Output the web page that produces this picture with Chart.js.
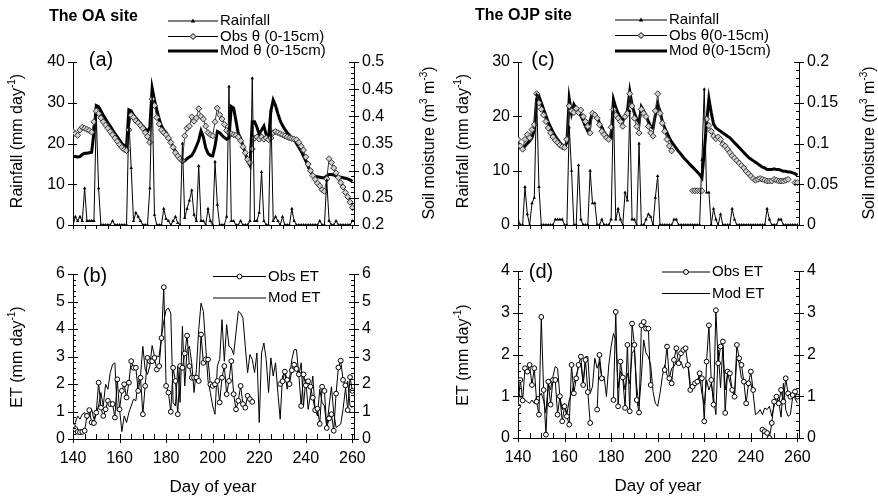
<!DOCTYPE html>
<html>
<head>
<meta charset="utf-8">
<title>OA and OJP sites: rainfall, soil moisture and ET</title>
<script src="https://cdn.jsdelivr.net/npm/chart.js@4.4.1/dist/chart.umd.min.js"></script>
<style>
  body { margin: 0; background: #fff; }
  #wrap { position: relative; width: 878px; height: 498px; overflow: hidden; }
  #wrap canvas { position: absolute; left: 0; top: 0; }
</style>
</head>
<body>
<div id="wrap">
  <canvas id="chartA" width="878" height="498"></canvas>
  <canvas id="chartB" width="878" height="498"></canvas>
  <canvas id="chartC" width="878" height="498"></canvas>
  <canvas id="chartD" width="878" height="498"></canvas>
</div>
<script>
// day of year, one entry per day
const days = [
  140, 141, 142, 143, 144, 145, 146, 147, 148, 149,
  150, 151, 152, 153, 154, 155, 156, 157, 158, 159,
  160, 161, 162, 163, 164, 165, 166, 167, 168, 169,
  170, 171, 172, 173, 174, 175, 176, 177, 178, 179,
  180, 181, 182, 183, 184, 185, 186, 187, 188, 189,
  190, 191, 192, 193, 194, 195, 196, 197, 198, 199,
  200, 201, 202, 203, 204, 205, 206, 207, 208, 209,
  210, 211, 212, 213, 214, 215, 216, 217, 218, 219,
  220, 221, 222, 223, 224, 225, 226, 227, 228, 229,
  230, 231, 232, 233, 234, 235, 236, 237, 238, 239,
  240, 241, 242, 243, 244, 245, 246, 247, 248, 249,
  250, 251, 252, 253, 254, 255, 256, 257, 258, 259,
  260
];

// tick labels
const dayTicks = [140, 160, 180, 200, 220, 240, 260];
const rainTicksOA = [0, 10, 20, 30, 40];
const thetaTicksOA = [0.2, 0.25, 0.3, 0.35, 0.4, 0.45, 0.5];
const rainTicksOJP = [0, 10, 20, 30];
const thetaTicksOJP = [0, 0.05, 0.1, 0.15, 0.2];
const etTicksOA = [0, 1, 2, 3, 4, 5, 6];
const etTicksOJP = [0, 1, 2, 3, 4];

// (a) OA site, rainfall (mm/day)
const rainOA = [
  0, 2, 1, 2, 1, 9, 1, 1, 1, 1,
  27, 9, 0, 0, 0, 0, 0, 1, 0, 0,
  0, 0, 0, 0, 26, 14, 1, 3, 2, 1,
  0, 0, 0, 9, 33, 2.5, 0, 0, 0, 4,
  1.5, 1, 0, 1, 2, 0.5, 0, 20, 1.7, 4,
  6, 8.5, 2.5, 1, 14.5, 1, 1, 0, 4, 1,
  0, 15.5, 5, 0, 0, 0, 2, 34, 1, 1,
  0, 0, 1, 0, 0, 0, 1, 36, 1, 1,
  3, 13, 1, 0, 0, 28, 1, 2, 1, 0,
  2, 0, 0, 0, 4, 1, 0, 0, 0, 0,
  0, 0, 0, 0, 0, 0, 1, 0, 0, 11,
  1, 0, 0, 1, 0, 0, 0, 0, 0, 0,
  1
];
// (a) observed soil moisture 0-15 cm (m3/m3)
const obsThetaOA = [
  0.372, 0.368, 0.365, 0.375, 0.38, 0.378, 0.376, 0.374, 0.371, 0.39,
  0.41, 0.405, 0.397, 0.39, 0.384, 0.378, 0.372, 0.366, 0.36, 0.354,
  0.348, 0.343, 0.339, 0.337, 0.375, 0.402, 0.398, 0.392, 0.388, 0.383,
  0.378, 0.37, 0.363, 0.352, 0.432, 0.42, 0.398, 0.386, 0.375, 0.37,
  0.366, 0.36, 0.352, 0.343, 0.333, 0.327, 0.322, 0.318, 0.364, 0.378,
  0.382, 0.399, 0.391, 0.397, 0.414, 0.4, 0.395, 0.382, 0.37, 0.366,
  0.364, 0.39, 0.415, 0.403, 0.395, 0.385, 0.374, 0.37, 0.368, 0.366,
  0.365, 0.362, 0.355, 0.344, 0.333, 0.321, 0.315, 0.34, 0.36, 0.362,
  0.358, 0.362, 0.358, 0.36, 0.357, 0.36, 0.37, 0.372, 0.37, 0.368,
  0.366, 0.364, 0.362, 0.36, 0.359, 0.358, 0.357, 0.352, 0.345, 0.338,
  0.325, 0.312, 0.3, 0.291, 0.284, 0.277, 0.272, 0.265, 0.262, 0.285,
  0.322, 0.315, 0.305, 0.296, 0.287, 0.278, 0.27, 0.26, 0.252, 0.242,
  0.232
];
// (a) modelled soil moisture 0-15 cm
const modThetaOA = [
  0.326, 0.326, 0.325, 0.326, 0.33, 0.332, 0.332, 0.333, 0.334, 0.37,
  0.42, 0.418, 0.41, 0.402, 0.395, 0.388, 0.382, 0.375, 0.368, 0.362,
  0.356, 0.35, 0.346, 0.344, 0.412, 0.41, 0.402, 0.397, 0.392, 0.387,
  0.382, 0.377, 0.372, 0.38, 0.452, 0.43, 0.412, 0.395, 0.382, 0.375,
  0.37, 0.362, 0.353, 0.344, 0.335, 0.326, 0.32, 0.316, 0.318, 0.322,
  0.325, 0.328, 0.335, 0.345, 0.356, 0.373, 0.362, 0.342, 0.332, 0.328,
  0.327, 0.345, 0.372, 0.37, 0.365, 0.361, 0.358, 0.36, 0.418, 0.415,
  0.392, 0.368, 0.36, 0.345, 0.333, 0.318, 0.31, 0.39, 0.39, 0.38,
  0.367, 0.375, 0.382, 0.366, 0.36, 0.41, 0.43, 0.42, 0.405, 0.392,
  0.383, 0.376, 0.37, 0.365, 0.36, 0.357, 0.35, 0.343, 0.336, 0.327,
  0.318, 0.308, 0.298, 0.292, 0.29, 0.289, 0.288, 0.287, 0.287, 0.29,
  0.293, 0.293, 0.292, 0.29, 0.289, 0.288, 0.287, 0.286, 0.285, 0.283,
  0.28
];

// (b) OA site ET (mm/day)
const obsEtOA = [
  0.47, 0.36, 0.26, 0.25, 0.26, 0.3, 0.84, 1.05, 0.6, 0.58,
  0.96, 2.05, 1.14, 0.84, 1.08, 1.39, 1.27, 1.27, 0.78, 2.17,
  1.08, 1.75, 1.99, 1.51, 2.05, 2.83, 2.59, 2.59, 1.75, 2.23,
  0.9, 1.93, 2.95, 2.83, 2.83, 2.95, 2.53, 2.65, 3.67, 5.52,
  1.93, 1.69, 0.99, 2.59, 2.11, 0.9, 2.65, 2.59, 3.11, 3.76,
  2.65, 2.23, 2.23, 2.23, 2.11, 3.8, 2.77, 2.89, 2.89, 1.99,
  1.93, 1.99, 2.11, 1.33, 2.23, 2.65, 1.63, 2.11, 2.83, 1.63,
  1.08, 1.39, 1.93, 1.27, 1.14, 1.57, 1.45, 1.35, null, null,
  null, null, null, null, null, null, null, null, null, 2.0,
  2.1, 2.45, 2.15, 2.0, 2.5, 2.7, 2.55, 2.35, 1.2, 2.35,
  1.95, 2.1, 1.9, 1.5, 1.05, 1.1, 0.55, 1.9, 1.75, 0.4,
  0.75, 0.9, 0.3, 1.65, 2.6, 2.85, 2.15, 1.95, 1.05, 2.25,
  1.75
];
const modEtOA = [
  0.42, 0.6, 0.84, 0.72, 0.9, 0.96, 0.72, 0.84, 1.08, 0.72,
  0.96, 1.2, 1.69, 1.2, 1.99, 1.81, 2.41, 2.71, 2.77, 1.02,
  1.08, 0.27, 0.84, 0.6, 0.96, 1.2, 1.45, 1.39, 2.05, 2.29,
  3.37, 2.53, 2.35, 2.65, 3.4, 3.01, 3.01, 3.0, 3.73, 4.28,
  4.7, 4.76, 4.58, 1.33, 1.2, 2.65, 1.33, 4.1, 1.93, 3.25,
  3.37, 2.77, 1.69, 2.53, 3.98, 4.94, 4.64, 3.37, 2.11, 1.69,
  1.2, 0.9, 2.65, 2.89, 4.34, 2.83, 4.16, 3.37, 3.31, 3.07,
  3.86, 4.64, 4.58, 4.4, 3.37, 2.41, 3.07, 2.89, 2.41, 3.13,
  0.6, 3.13, 3.49, 2.89, 1.69, 2.95, 2.29, 2.77, 1.69, 0.72,
  2.29, 2.41, 1.81, 2.2, 2.89, 3.25, 3.25, 2.29, 2.77, 1.2,
  2.17, 1.08, 1.6, 2.29, 1.08, 0.84, 1.81, 1.33, 1.2, 0.42,
  1.2, 1.9, 0.96, 0.42, 0.48, 0.54, 1.08, 1.81, 2.11, 1.2,
  1.14
];

// (c) OJP site rainfall (mm/day)
const rainOJP = [
  1, 0, 0, 7, 2, 0, 4, 5, 24, 7,
  0, 0, 0, 0, 0, 0, 1, 1, 1, 1,
  0, 0, 18, 10, 0, 0, 11, 1, 0, 0,
  0, 10, 4, 4, 0, 0, 1, 0, 0, 0,
  1, 22, 1, 3, 1, 0, 6, 4.5, 21, 1,
  1, 0, 15, 0, 0, 1, 2, 1.5, 0, 5,
  9, 0, 0, 0, 0, 0, 0, 1, 1, 0,
  0, 0, 0, 0, 0, 0, 0, 0, 0, 12,
  25, 6, 6, 0, 3, 1, 0, 2, 0, 0,
  0, 0, 3, 1, 0, 0, 0, 0, 0, 0,
  0, 0, 0, 0, 0, 0, 0, 3, 1, 0,
  0, 0, 1, 1, 0, 0, 0, 0, 0, 0,
  0
];
const obsThetaOJP = [
  0.105, 0.097, 0.093, 0.105, 0.111, 0.107, 0.117, 0.123, 0.161, 0.15,
  0.142, 0.135, 0.127, 0.119, 0.113, 0.108, 0.104, 0.101, 0.098, 0.096,
  0.095, 0.105, 0.146, 0.14, 0.138, 0.143, 0.138, 0.141, 0.133, 0.127,
  0.121, 0.113, 0.137, 0.135, 0.131, 0.123, 0.115, 0.111, 0.107, 0.105,
  0.12, 0.142, 0.135, 0.131, 0.127, 0.121, 0.133, 0.137, 0.161, 0.146,
  0.131, 0.121, 0.113, 0.142, 0.137, 0.133, 0.121, 0.113, 0.109, 0.14,
  0.161, 0.137, 0.125, 0.115, 0.105, 0.097, 0.091, null, null, null,
  null, null, null, null, null, 0.042, 0.042, 0.042, 0.042, 0.042,
  null, 0.13, 0.122, 0.115, 0.109, 0.106, 0.108, 0.105, 0.099, 0.097,
  0.093, 0.089, 0.085, 0.082, 0.079, 0.076, 0.073, 0.07, 0.066, 0.063,
  0.06, 0.057, 0.055, 0.056, 0.057, 0.056, 0.055, 0.054, 0.054, 0.054,
  0.056, 0.055, 0.054, 0.054, 0.054, 0.055, 0.056, null, null, 0.052,
  0.052
];
const modThetaOJP = [
  0.097, 0.095, 0.093, 0.097, 0.1, 0.103, 0.107, 0.117, 0.155, 0.158,
  0.15, 0.142, 0.134, 0.126, 0.12, 0.114, 0.109, 0.105, 0.101, 0.098,
  0.096, 0.101, 0.155, 0.137, 0.148, 0.143, 0.14, 0.134, 0.128, 0.121,
  0.115, 0.128, 0.137, 0.135, 0.132, 0.125, 0.12, 0.114, 0.11, 0.107,
  0.107, 0.154, 0.144, 0.137, 0.132, 0.128, 0.133, 0.14, 0.164, 0.147,
  0.137, 0.13, 0.126, 0.145, 0.14, 0.134, 0.127, 0.121, 0.119, 0.135,
  0.148, 0.14, 0.127, 0.119, 0.113, 0.107, 0.102, 0.098, 0.094, 0.09,
  0.087, 0.083, 0.08, 0.077, 0.074, 0.071, 0.068, 0.065, 0.062, 0.058,
  0.09, 0.125, 0.155, 0.138, 0.124, 0.119, 0.117, 0.115, 0.113, 0.111,
  0.109, 0.107, 0.104, 0.101, 0.098, 0.095, 0.092, 0.089, 0.086, 0.083,
  0.081, 0.079, 0.077, 0.075, 0.073, 0.071, 0.07, 0.068, 0.068, 0.068,
  0.069, 0.068, 0.068, 0.067, 0.066, 0.066, 0.065, 0.065, 0.064, 0.063,
  0.061
];

// (d) OJP site ET (mm/day)
const obsEtOJP = [
  0.76, 1.39, 0.9, 1.67, 1.59, 1.75, 1.27, 1.67, 0.87, 0.56,
  2.9, 1.15, 0.08, 1.35, 0.8, 1.39, 1.39, 0.56, 1.0, 0.4,
  0.76, 0.52, 0.32, 1.75, 1.07, 1.43, 1.75, 1.95, 1.27, 1.87,
  1.1, 0.36, null, null, 0.68, 1.99, 1.43, null, null, null,
  null, 0.91, 3.02, 0.76, 1.83, 1.45, 0.72, 2.23, 0.64, 2.74,
  2.23, 0.91, 0.61, 2.7, 2.78, 2.62, 2.62, 1.27, null, null,
  null, null, null, 1.63, 2.19, 1.43, 1.31, 1.87, 2.15, 1.79,
  2.03, 2.11, 2.15, 1.75, 1.15, 1.23, 1.31, 1.35, 1.55, 1.43,
  0.4, 1.83, 2.7, 1.39, 0.8, 3.06, 1.79, 2.19, 2.31, 0.6,
  1.59, 1.55, 1.15, 0.99, 2.23, 1.91, 1.75, 1.35, 0.83, 1.31,
  1.59, 1.15, null, null, null, 0.2, 0.16, 0.12, 0.0, 0.36,
  0.87, 0.99, 0.83, 1.15, 0.87, 1.43, 1.07, 0.99, 1.03, 1.11,
  0.99
];
const modEtOJP = [
  1.11, 0.99, 0.91, 0.91, 0.87, 0.83, 0.91, 0.83, 0.99, 0.99,
  1.07, 0.91, 0.6, 1.31, 1.15, 1.47, 1.71, 1.67, 0.99, 0.68,
  0.83, 0.56, 0.91, 1.07, 1.31, 1.47, 1.71, 1.79, 1.31, 1.95,
  1.95, 1.07, 1.23, 1.91, 1.67, 1.83, 1.43, 1.47, 0.99, 1.75,
  2.19, 2.5, 2.35, 1.2, 1.6, 1.47, 1.15, 1.55, 1.3, 2.03,
  2.11, 1.23, 0.76, 1.47, 2.35, 2.03, 1.95, 1.75, 1.11, 0.83,
  0.76, 1.07, 1.47, 1.75, 1.51, 1.43, 1.67, 1.71, 1.83, 1.75,
  1.83, 1.67, 1.71, 1.79, 1.3, 1.23, 1.35, 1.39, 1.47, 1.07,
  0.8, 1.39, 1.15, 1.31, 0.95, 0.56, 2.11, 1.2, 2.19, 1.15,
  1.55, 1.35, 1.15, 0.99, 1.95, 1.79, 1.43, 1.39, 1.31, 1.23,
  1.31, 1.07, 0.56, 0.6, 0.68, 0.56, 0.72, 0.68, 0.76, 0.52,
  0.76, 0.99, 0.87, 0.5, 1.31, 0.68, 0.52, 0.56, 0.99, 0.95,
  0.83
];

const W = 878, H = 498;
const FONT = 'Arial, "Liberation Sans", Helvetica, sans-serif';
const X_MAX = 260.7;

Chart.defaults.font.family = FONT;
Chart.defaults.color = '#000';

const pts = arr => days.map((d, i) => ({ x: d, y: arr[i] }));

function rainSet(arr) {
  return { label: 'Rainfall', data: pts(arr), yAxisID: 'y', order: 1,
    borderColor: '#000', borderWidth: 1, pointStyle: 'triangle', pointRadius: 2,
    pointBackgroundColor: '#000', pointBorderColor: '#000', pointBorderWidth: 0 };
}
function obsThetaSet(arr) {
  return { label: 'Obs θ', data: pts(arr), yAxisID: 'y2', order: 2,
    borderColor: '#333', borderWidth: 1, pointStyle: 'rectRot', pointRadius: 3,
    pointBackgroundColor: '#cfcfcf', pointBorderColor: '#333', pointBorderWidth: 1 };
}
function modThetaSet(arr) {
  return { label: 'Mod θ', data: pts(arr), yAxisID: 'y2', order: 3,
    borderColor: '#000', borderWidth: 3, pointRadius: 0 };
}
function obsEtSet(arr) {
  return { label: 'Obs ET', data: pts(arr), yAxisID: 'y', order: 1,
    borderColor: '#000', borderWidth: 1, pointStyle: 'circle', pointRadius: 2.4,
    pointBackgroundColor: '#fff', pointBorderColor: '#000', pointBorderWidth: 1 };
}
function modEtSet(arr) {
  return { label: 'Mod ET', data: pts(arr), yAxisID: 'y', order: 2,
    borderColor: '#000', borderWidth: 1, pointRadius: 0 };
}

function axisY(pos, min, max, labels, width) {
  return {
    type: 'linear', position: pos, min: min, max: max,
    afterFit: s => { s.width = width; },
    afterBuildTicks: s => { s.ticks = labels.map(v => ({ value: v })); },
    grid: { display: false, drawTicks: false },
    border: { display: true, color: '#000', width: 1 },
    ticks: { padding: 8, font: { size: 16 }, color: '#000',
      callback: v => String(Math.round(v * 100) / 100) }
  };
}

function drawTicks(ctx, scale, a, side, from, to, step, outLen, inLen) {
  const n = Math.round((to - from) / step);
  ctx.beginPath();
  for (let k = 0; k <= n; k++) {
    const p = Math.round(scale.getPixelForValue(from + k * step)) + 0.5;
    if (side === 'bottom') { ctx.moveTo(p, a.bottom - inLen); ctx.lineTo(p, a.bottom + outLen); }
    if (side === 'left') { ctx.moveTo(a.left - outLen, p); ctx.lineTo(a.left + inLen, p); }
    if (side === 'right') { ctx.moveTo(a.right - inLen, p); ctx.lineTo(a.right + outLen, p); }
  }
  ctx.stroke();
}

// text with superscripts, centred on (x, y)
function richText(ctx, parts, x, y, size, rot) {
  ctx.save();
  ctx.translate(x, y);
  ctx.rotate(rot);
  ctx.textAlign = 'left';
  ctx.textBaseline = 'middle';
  const font = p => (p[1] ? Math.round(size * 0.62) : size) + 'px ' + FONT;
  let w = 0;
  parts.forEach(p => { ctx.font = font(p); w += ctx.measureText(p[0]).width; });
  let cx = -w / 2;
  parts.forEach(p => {
    ctx.font = font(p);
    ctx.fillText(p[0], cx, p[1] ? -size * 0.38 : 0);
    cx += ctx.measureText(p[0]).width;
  });
  ctx.restore();
}

function legendRow(ctx, x1, x2, r) {
  const [y, label, marker, lw] = r;
  ctx.lineWidth = lw;
  ctx.beginPath(); ctx.moveTo(x1, y); ctx.lineTo(x2, y); ctx.stroke();
  const mx = (x1 + x2) / 2;
  ctx.lineWidth = 1;
  if (marker === 'tri') {
    ctx.beginPath(); ctx.moveTo(mx, y - 2.5); ctx.lineTo(mx + 2.2, y + 1.5); ctx.lineTo(mx - 2.2, y + 1.5);
    ctx.closePath(); ctx.fill();
  }
  if (marker === 'dia') {
    ctx.beginPath(); ctx.moveTo(mx, y - 3); ctx.lineTo(mx + 3, y); ctx.lineTo(mx, y + 3); ctx.lineTo(mx - 3, y);
    ctx.closePath(); ctx.fillStyle = '#cfcfcf'; ctx.fill(); ctx.stroke(); ctx.fillStyle = '#000';
  }
  if (marker === 'circ') {
    ctx.beginPath(); ctx.arc(mx, y, 2.4, 0, 2 * Math.PI);
    ctx.fillStyle = '#fff'; ctx.fill(); ctx.stroke(); ctx.fillStyle = '#000';
  }
  ctx.font = '15px ' + FONT;
  ctx.textAlign = 'left';
  ctx.textBaseline = 'middle';
  ctx.fillText(label, x2 + 2, y);
}

function decorate(c, s) {
  const ctx = c.ctx, a = c.chartArea;
  ctx.save();
  ctx.strokeStyle = '#000';
  ctx.fillStyle = '#000';
  ctx.lineWidth = 1;
  s.ticks.forEach(t => drawTicks(ctx, c.scales[t[0]], a, t[1], t[2], t[3], t[4], t[5], t[6]));
  ctx.textBaseline = 'middle';
  if (s.title) {
    ctx.font = 'bold 16px ' + FONT;
    ctx.textAlign = 'left';
    ctx.fillText(s.title[0], s.title[1], s.title[2]);
  }
  ctx.font = '20px ' + FONT;
  ctx.textAlign = 'center';
  ctx.fillText(s.tag[0], s.tag[1], s.tag[2]);
  s.legend.rows.forEach(r => legendRow(ctx, s.legend.x1, s.legend.x2, r));
  s.axisTitles.forEach(t => richText(ctx, t[0], t[1], t[2], 16, -Math.PI / 2));
  if (s.xTitle) richText(ctx, [['Day of year']], s.xTitle[0], s.xTitle[1], 17, 0);
  ctx.restore();
}

function makePanel(id, area, datasets, left, right, showDays, spec) {
  return new Chart(document.getElementById(id), {
    type: 'line',
    data: { datasets },
    options: {
      responsive: false, animation: false, devicePixelRatio: 1, events: [],
      layout: { padding: { top: area.top, left: 0, right: 0, bottom: 0 } },
      plugins: { legend: { display: false }, tooltip: { enabled: false } },
      scales: {
        x: {
          type: 'linear', position: 'bottom', min: 140, max: X_MAX,
          afterFit: s => { s.height = H - area.bottom; },
          afterBuildTicks: s => { s.ticks = dayTicks.map(v => ({ value: v })); },
          grid: { display: false, drawTicks: false },
          border: { display: true, color: '#000', width: 1 },
          ticks: { display: showDays, autoSkip: false, maxRotation: 0, padding: 10,
            font: { size: 16 }, color: '#000' }
        },
        y: axisY('left', left[0], left[1], left[2], area.left),
        y2: axisY('right', right[0], right[1], right[2], W - area.right)
      }
    },
    plugins: [{ id: 'deco', afterDraw: c => decorate(c, spec) }]
  });
}

const rainTitle = [['Rainfall (mm day'], ['-1', true], [')']];
const soilTitle = [['Soil moisture (m'], ['3', true], [' m'], ['-3', true], [')']];
const etTitle = [['ET (mm day'], ['-1', true], [')']];

// (a)
makePanel('chartA', { left: 73, right: 354, top: 62, bottom: 225 },
  [rainSet(rainOA), obsThetaSet(obsThetaOA), modThetaSet(modThetaOA)],
  [0, 40, rainTicksOA], [0.2, 0.5, thetaTicksOA], false, {
    ticks: [
      ['x', 'bottom', 140, 260, 5, 4, 0],
      ['y', 'left', 0, 40, 10, 5, 4],
      ['y2', 'right', 0.2, 0.5, 0.05, 5, 5],
      ['y2', 'right', 0.2, 0.5, 0.01, 0, 3]
    ],
    title: ['The OA site', 49, 17],
    tag: ['(a)', 101, 60],
    legend: { x1: 168, x2: 218, rows: [
      [21, 'Rainfall', 'tri', 1], [36.5, 'Obs θ (0-15cm)', 'dia', 1], [51, 'Mod θ (0-15cm)', null, 3]] },
    axisTitles: [[rainTitle, 18, 141], [soilTitle, 430, 143]]
  });

// (b)
makePanel('chartB', { left: 73, right: 354, top: 274, bottom: 439 },
  [obsEtSet(obsEtOA), modEtSet(modEtOA)],
  [0, 6, etTicksOA], [0, 6, etTicksOA], true, {
    ticks: [
      ['x', 'bottom', 140, 260, 5, 0, 5],
      ['x', 'bottom', 140, 260, 20, 4, 5],
      ['y', 'left', 0, 6, 1, 5, 5],
      ['y', 'left', 0, 6, 0.2, 0, 3],
      ['y2', 'right', 0, 6, 1, 5, 5],
      ['y2', 'right', 0, 6, 0.2, 0, 3]
    ],
    tag: ['(b)', 95, 276],
    legend: { x1: 213, x2: 266, rows: [[276.5, 'Obs ET', 'circ', 1], [298, 'Mod ET', null, 1]] },
    axisTitles: [[etTitle, 18, 357]],
    xTitle: [213, 487]
  });

// (c)
makePanel('chartC', { left: 518, right: 799, top: 62, bottom: 225 },
  [rainSet(rainOJP), obsThetaSet(obsThetaOJP), modThetaSet(modThetaOJP)],
  [0, 30, rainTicksOJP], [0, 0.2, thetaTicksOJP], false, {
    ticks: [
      ['x', 'bottom', 140, 260, 5, 4, 0],
      ['y', 'left', 0, 30, 10, 5, 4],
      ['y2', 'right', 0, 0.2, 0.05, 5, 5],
      ['y2', 'right', 0, 0.2, 0.01, 0, 3]
    ],
    title: ['The OJP site', 475, 16],
    tag: ['(c)', 543, 60],
    legend: { x1: 615, x2: 667, rows: [
      [20, 'Rainfall', 'tri', 1], [35.5, 'Obs θ(0-15cm)', 'dia', 1], [51, 'Mod θ(0-15cm)', null, 3]] },
    axisTitles: [[rainTitle, 464, 141], [soilTitle, 870, 143]]
  });

// (d)
makePanel('chartD', { left: 518, right: 799, top: 271, bottom: 438 },
  [obsEtSet(obsEtOJP), modEtSet(modEtOJP)],
  [0, 4, etTicksOJP], [0, 4, etTicksOJP], true, {
    ticks: [
      ['x', 'bottom', 140, 260, 5, 0, 5],
      ['x', 'bottom', 140, 260, 20, 4, 5],
      ['y', 'left', 0, 4, 1, 5, 5],
      ['y', 'left', 0, 4, 0.2, 0, 3],
      ['y2', 'right', 0, 4, 1, 5, 5],
      ['y2', 'right', 0, 4, 0.2, 0, 3]
    ],
    tag: ['(d)', 541, 272],
    legend: { x1: 662, x2: 710, rows: [[272, 'Obs ET', 'circ', 1], [293.5, 'Mod ET', null, 1]] },
    axisTitles: [[etTitle, 464, 355]],
    xTitle: [658, 486]
  });
</script>
</body>
</html>
